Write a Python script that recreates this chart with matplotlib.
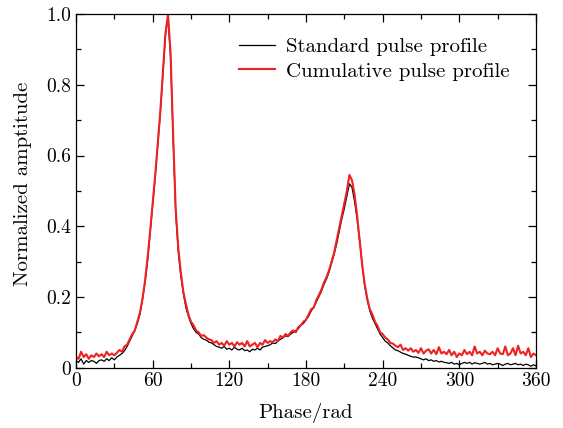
import numpy as np
import matplotlib
matplotlib.use('Agg')
import matplotlib.pyplot as plt

plt.rcParams['font.family'] = 'serif'
plt.rcParams['font.serif'] = ['cmr10', 'DejaVu Serif']
plt.rcParams['mathtext.fontset'] = 'cm'
plt.rcParams['axes.unicode_minus'] = False

# phase grid, 2 deg step
phase = np.arange(0, 361, 2)

standard = [
    0.020, 0.015, 0.025, 0.010, 0.020, 0.015, 0.020, 0.018, 0.012, 0.020,
    0.022, 0.018, 0.025, 0.020, 0.028, 0.022, 0.030, 0.035, 0.040, 0.048,
    0.060, 0.075, 0.090, 0.105, 0.125, 0.150, 0.190, 0.240, 0.300, 0.380,
    0.460, 0.540, 0.630, 0.720, 0.830, 0.940, 0.990, 0.880, 0.650, 0.440,
    0.330, 0.260, 0.210, 0.170, 0.145, 0.125, 0.110, 0.100, 0.095, 0.085,
    0.080, 0.078, 0.072, 0.070, 0.065, 0.060, 0.058, 0.055, 0.060, 0.052,
    0.055, 0.050, 0.058, 0.052, 0.050, 0.055, 0.048, 0.050, 0.045, 0.052,
    0.050, 0.055, 0.050, 0.058, 0.060, 0.062, 0.065, 0.070, 0.068, 0.075,
    0.080, 0.085, 0.090, 0.088, 0.095, 0.100, 0.105, 0.110, 0.120, 0.125,
    0.135, 0.145, 0.160, 0.170, 0.185, 0.200, 0.215, 0.235, 0.250, 0.270,
    0.295, 0.320, 0.350, 0.385, 0.420, 0.450, 0.485, 0.520, 0.510, 0.470,
    0.420, 0.360, 0.290, 0.230, 0.190, 0.160, 0.140, 0.125, 0.110, 0.095,
    0.085, 0.075, 0.070, 0.062, 0.056, 0.050, 0.048, 0.044, 0.040, 0.038,
    0.035, 0.032, 0.030, 0.030, 0.028, 0.025, 0.022, 0.025, 0.020, 0.022,
    0.018, 0.020, 0.016, 0.018, 0.015, 0.014, 0.012, 0.015, 0.010, 0.012,
    0.008, 0.012, 0.015, 0.012, 0.015, 0.010, 0.014, 0.012, 0.010, 0.012,
    0.015, 0.010, 0.012, 0.008, 0.010, 0.012, 0.010, 0.006, 0.010, 0.012,
    0.008, 0.010, 0.012, 0.008, 0.010, 0.006, 0.010, 0.008, 0.004, 0.008,
    0.005,
]

cumulative = [
    0.030, 0.025, 0.045, 0.030, 0.038, 0.025, 0.035, 0.030, 0.040, 0.032,
    0.038, 0.030, 0.045, 0.035, 0.040, 0.035, 0.042, 0.050, 0.045, 0.060,
    0.065, 0.080, 0.095, 0.105, 0.130, 0.155, 0.195, 0.245, 0.310, 0.385,
    0.465, 0.545, 0.635, 0.725, 0.835, 0.945, 1.000, 0.890, 0.660, 0.450,
    0.340, 0.270, 0.215, 0.180, 0.150, 0.130, 0.120, 0.105, 0.100, 0.090,
    0.092, 0.085, 0.080, 0.078, 0.070, 0.075, 0.065, 0.070, 0.062, 0.075,
    0.065, 0.070, 0.060, 0.072, 0.065, 0.070, 0.060, 0.075, 0.060, 0.065,
    0.070, 0.058, 0.070, 0.065, 0.078, 0.070, 0.075, 0.072, 0.080, 0.075,
    0.090, 0.085, 0.095, 0.090, 0.100, 0.105, 0.100, 0.115, 0.120, 0.130,
    0.135, 0.150, 0.165, 0.170, 0.190, 0.205, 0.220, 0.240, 0.255, 0.275,
    0.300, 0.325, 0.360, 0.395, 0.430, 0.465, 0.500, 0.545, 0.530, 0.490,
    0.430, 0.360, 0.290, 0.235, 0.195, 0.165, 0.150, 0.130, 0.118, 0.100,
    0.095, 0.085, 0.080, 0.070, 0.068, 0.062, 0.058, 0.065, 0.050, 0.055,
    0.048, 0.055, 0.045, 0.050, 0.042, 0.055, 0.040, 0.048, 0.052, 0.040,
    0.050, 0.038, 0.058, 0.040, 0.045, 0.038, 0.050, 0.035, 0.045, 0.030,
    0.040, 0.035, 0.050, 0.038, 0.045, 0.035, 0.060, 0.040, 0.045, 0.035,
    0.048, 0.040, 0.038, 0.045, 0.035, 0.055, 0.040, 0.038, 0.060, 0.035,
    0.040, 0.055, 0.035, 0.062, 0.040, 0.045, 0.035, 0.055, 0.030, 0.040,
    0.035,
]

xticks = [0, 60, 120, 180, 240, 300, 360]
yticks = [0, 0.2, 0.4, 0.6, 0.8, 1.0]
yticklabels = ['0', '0.2', '0.4', '0.6', '0.8', '1.0']

fig = plt.figure(figsize=(5.63, 4.28), dpi=100)
ax = fig.add_axes([0.135, 0.141, 0.817, 0.826])

ax.plot(phase, standard, color='black', lw=0.9, label='Standard pulse profile')
ax.plot(phase, cumulative, color='#ee2222', lw=1.5, label='Cumulative pulse profile')

ax.set_xlim(0, 360)
ax.set_ylim(0, 1.0)
ax.set_xticks(xticks)
ax.set_xticks(np.arange(30, 360, 60), minor=True)
ax.set_yticks(yticks)
ax.set_yticklabels(yticklabels)
ax.set_yticks(np.arange(0.1, 1.0, 0.2), minor=True)
ax.tick_params(which='both', direction='in', top=True, right=True, labelsize=14, width=0.9)
ax.tick_params(which='major', length=5.5)
ax.tick_params(which='minor', length=3.5)
for s in ax.spines.values():
    s.set_linewidth(0.9)

ax.set_xlabel('Phase/rad', fontsize=15)
ax.set_ylabel('Normalized amptitude', fontsize=15)
ax.xaxis.set_label_coords(0.5, -0.1)
ax.yaxis.set_label_coords(-0.096, 0.52)
ax.legend(loc='upper right', frameon=False, fontsize=15, handlelength=1.73,
          handletextpad=0.53, bbox_to_anchor=(0.961, 0.958), borderaxespad=0,
          labelspacing=0.3)

fig.savefig('out.png', dpi=100)
